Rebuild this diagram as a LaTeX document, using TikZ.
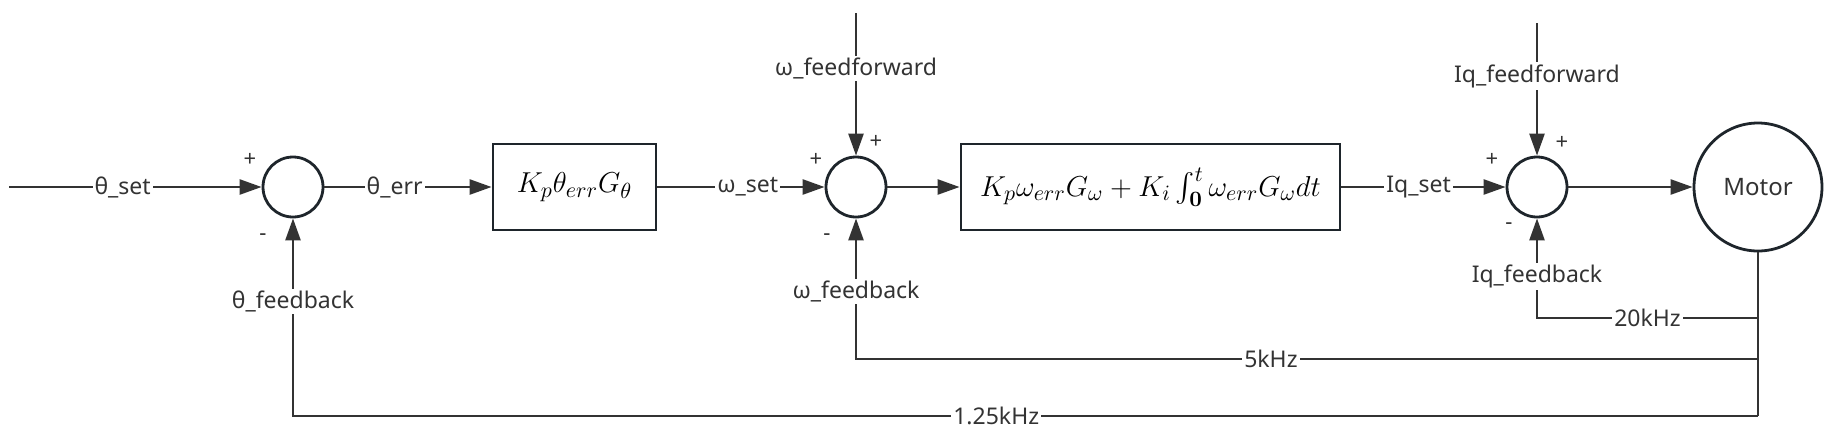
\documentclass[tikz,border=0pt]{standalone}
\usepackage[no-math]{fontspec}
\setmainfont{Noto Sans}
\usepackage{amsmath}
\usetikzlibrary{arrows.meta}
\definecolor{ln}{HTML}{333333}
\definecolor{rim}{HTML}{1E252B}

\begin{document}
\begin{tikzpicture}
	[x=0.5pt, y=-0.5pt, line width=1.25pt, color=ln,
	sum node/.style={circle, draw=rim, line width=1.4pt, inner sep=0pt, minimum size=30pt},
	block/.style={rectangle, draw=rim, line width=1.4pt, minimum height=43pt, text=black, font=\fontsize{15.5}{18}\selectfont},
	lbl/.style={fill=white, inner sep=1pt, font=\fontsize{11.5}{14}\selectfont},
	sgn/.style={inner sep=0pt, font=\fontsize{11}{12}\selectfont},
	arr/.style={-{Triangle[length=11pt, width=7.5pt]}}]
	\useasboundingbox (0,0) rectangle (1832,440);

	\node[sum node] (s1) at (293,187) {};
	\node[block, minimum width=81.5pt] (b1) at (574.5,187) {$K_p\theta_{err}G_\theta$};
	\node[sum node] (s2) at (856,187) {};
	\node[block, minimum width=189.5pt] (b2) at (1150.5,187) {$K_p\omega_{err}G_\omega+K_i\int_{\mathbf{0}}^{t}\omega_{err}G_\omega dt$};
	\node[sum node] (s3) at (1537,187) {};
	\node[circle, draw=rim, line width=1.4pt, inner sep=0pt, minimum size=64pt, font=\fontsize{12}{14}\selectfont] (mot) at (1758,187) {Motor};

	\coordinate (in) at (9,187);
	\coordinate (wff) at (856,13);
	\coordinate (iff) at (1537,23);
	\coordinate (j1) at (1758,318);
	\coordinate (j2) at (1758,359);
	\coordinate (j3) at (1758,416);

	%forward path
	\draw[arr] (in) -- node[lbl, pos=0.45] {θ\_set} (s1);
	\draw[arr] (s1) -- node[lbl, pos=0.42] {θ\_err} (b1);
	\draw[arr] (b1) -- node[lbl, pos=0.54] {ω\_set} (s2);
	\draw[arr] (s2) -- (b2);
	\draw[arr] (b2) -- node[lbl, pos=0.47] {Iq\_set} (s3);
	\draw[arr] (s3) -- (mot);
	\draw[arr] (wff) -- node[lbl, pos=0.39] {ω\_feedforward} (s2);
	\draw[arr] (iff) -- node[lbl, pos=0.4] {Iq\_feedforward} (s3);

	%feedback loops
	\draw (mot) -- (j3);
	\draw[arr] (j1) -| node[lbl, pos=0.25] {20kHz} node[lbl, pos=0.71] {Iq\_feedback} (s3);
	\draw[arr] (j2) -| node[lbl, pos=0.27] {5kHz} node[lbl, pos=0.74] {ω\_feedback} (s2);
	\draw[arr] (j3) -| node[lbl, pos=0.26] {1.25kHz} node[lbl, pos=0.79] {θ\_feedback} (s1);

	%signs
	\node[sgn] (p1) at (250,160) {+};
	\node[sgn] (m1) at (263,237) {-};
	\node[sgn] (p2) at (816,160) {+};
	\node[sgn] (q2) at (876,142) {+};
	\node[sgn] (m2) at (827,237) {-};
	\node[sgn] (p3) at (1492,160) {+};
	\node[sgn] (q3) at (1562,143) {+};
	\node[sgn] (m3) at (1509,226) {-};
\end{tikzpicture}
\end{document}
